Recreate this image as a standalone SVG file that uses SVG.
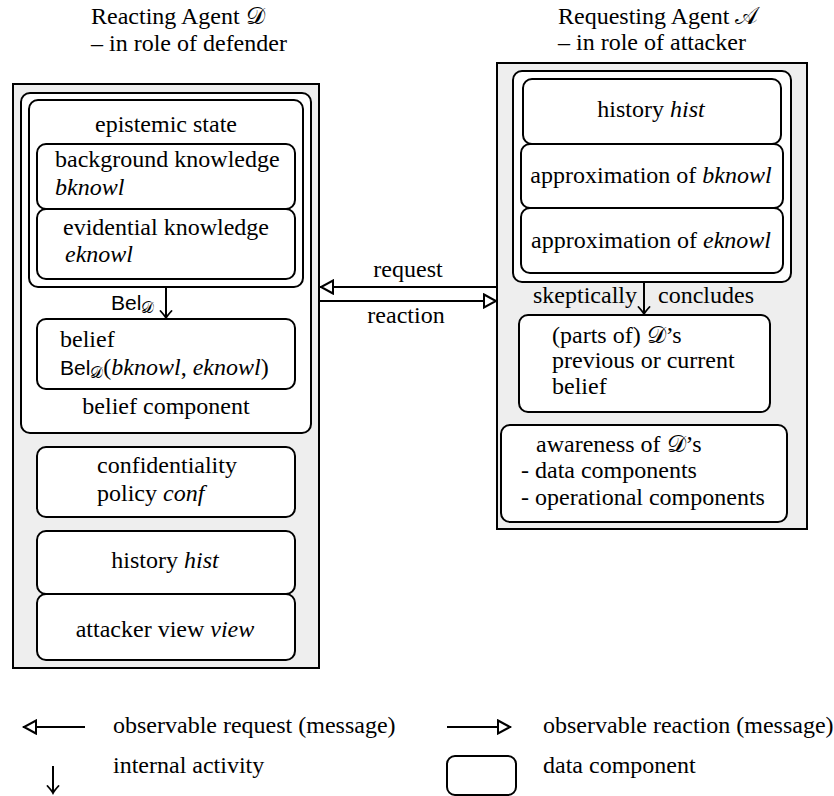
<svg xmlns="http://www.w3.org/2000/svg" width="834" height="796" viewBox="0 0 834 796">
  <defs>
    <style>
      .it { font-style: italic; }
      .sans { font-family: 'Liberation Sans', sans-serif; font-size: 21px; }
      .sub { font-size: 16px; }
      .agent { fill: #eeeeee; stroke: #000; stroke-width: 2; }
      .comp { fill: #fff; stroke: #000; stroke-width: 2; }
      .line { fill: none; stroke: #000; stroke-width: 2; }
      .mid { text-anchor: middle; }
    </style>
    <!-- open triangle head for messages -->
    <marker id="openTri" viewBox="-15 -8 17 16" refX="0" refY="0" markerWidth="17" markerHeight="16" markerUnits="userSpaceOnUse" orient="auto">
      <path d="M-13,-6.5 L-1,0 L-13,6.5 Z" fill="#fff" stroke="#000" stroke-width="2" stroke-linejoin="miter"/>
    </marker>
    <!-- thin curved head for internal activities -->
    <marker id="tip" viewBox="-9 -7 11 14" refX="0" refY="0" markerWidth="11" markerHeight="14" markerUnits="userSpaceOnUse" orient="auto">
      <path d="M-7,-5.5 Q-2,-1 0,0 Q-2,1 -7,5.5" fill="none" stroke="#000" stroke-width="1.8" stroke-linecap="round"/>
    </marker>
  </defs>

<g font-family="'Liberation Serif', serif" font-size="24" fill="#000">
  <!-- agent titles -->
  <g id="title-defender">
    <text x="91" y="24">Reacting Agent 𝒟</text>
    <text x="91" y="51">– in role of defender</text>
  </g>
  <g id="title-attacker">
    <text x="558" y="24">Requesting Agent 𝒜</text>
    <text x="558" y="50">– in role of attacker</text>
  </g>

  <!-- reacting agent (defender) -->
  <g id="defender">
    <rect class="agent" x="13" y="84" width="306" height="584"/>
    <g id="belief-component">
      <rect class="comp" x="21" y="93" width="290" height="340" rx="9"/>
      <text class="mid" x="166" y="414">belief component</text>
    </g>
    <g id="epistemic-state">
      <rect class="comp" x="29" y="100" width="274" height="187" rx="9"/>
      <text class="mid" x="166" y="132">epistemic state</text>
    </g>
    <g id="bknowl">
      <rect class="comp" x="37" y="144" width="258" height="65" rx="9"/>
      <text x="55" y="167">background knowledge</text>
      <text class="it" x="55" y="195">bknowl</text>
    </g>
    <g id="eknowl">
      <rect class="comp" x="37" y="209" width="258" height="70" rx="9"/>
      <text x="63" y="235">evidential knowledge</text>
      <text class="it" x="65" y="262">eknowl</text>
    </g>
    <g id="belief">
      <rect class="comp" x="37" y="319" width="258" height="70" rx="9"/>
      <text x="60" y="347">belief</text>
      <text x="60" y="375"><tspan class="sans">Bel</tspan><tspan class="sub" dy="3">𝒟</tspan><tspan dy="-3">(</tspan><tspan class="it">bknowl</tspan>, <tspan class="it">eknowl</tspan>)</text>
    </g>
    <g id="conf">
      <rect class="comp" x="37" y="447" width="258" height="70" rx="9"/>
      <text x="97" y="473">confidentiality</text>
      <text x="97" y="501">policy <tspan class="it">conf</tspan></text>
    </g>
    <g id="hist-d">
      <rect class="comp" x="37" y="531" width="258" height="63" rx="9"/>
      <text class="mid" x="165" y="568">history <tspan class="it">hist</tspan></text>
    </g>
    <g id="view">
      <rect class="comp" x="37" y="594" width="258" height="66" rx="9"/>
      <text class="mid" x="165" y="637">attacker view <tspan class="it">view</tspan></text>
    </g>
  </g>

  <!-- requesting agent (attacker) -->
  <g id="attacker">
    <rect class="agent" x="497" y="63" width="310" height="466"/>
    <g id="attacker-knowledge">
      <rect class="comp" x="513" y="71" width="278" height="211" rx="9"/>
    </g>
    <g id="hist-a">
      <rect class="comp" x="523" y="79" width="258" height="65" rx="9"/>
      <text class="mid" x="651" y="117">history <tspan class="it">hist</tspan></text>
    </g>
    <g id="approx-bknowl">
      <rect class="comp" x="521" y="144" width="262" height="64" rx="9"/>
      <text class="mid" x="651" y="183">approximation of <tspan class="it">bknowl</tspan></text>
    </g>
    <g id="approx-eknowl">
      <rect class="comp" x="521" y="208" width="262" height="65" rx="9"/>
      <text class="mid" x="651" y="248">approximation of <tspan class="it">eknowl</tspan></text>
    </g>
    <g id="concluded-belief">
      <rect class="comp" x="519" y="315" width="251" height="97" rx="9"/>
      <text x="552" y="343">(parts of) 𝒟’s</text>
      <text x="552" y="368">previous or current</text>
      <text x="552" y="394">belief</text>
    </g>
    <g id="awareness">
      <rect class="comp" x="501" y="425" width="286" height="97" rx="9"/>
      <text x="536" y="452">awareness of 𝒟’s</text>
      <text x="521" y="478">- data components</text>
      <text x="521" y="505">- operational components</text>
    </g>
  </g>

  <!-- connectors -->
  <g id="connectors">
    <line class="line" x1="166" y1="287" x2="166" y2="318" marker-end="url(#tip)"/>
    <text x="111" y="310"><tspan class="sans">Bel</tspan><tspan class="sub" dy="3">𝒟</tspan></text>

    <line class="line" x1="644" y1="282" x2="644" y2="314" marker-end="url(#tip)"/>
    <text x="637" y="303" text-anchor="end">skeptically</text>
    <text x="658" y="303">concludes</text>

    <line class="line" x1="497" y1="287" x2="320" y2="287" marker-end="url(#openTri)"/>
    <text class="mid" x="408" y="277">request</text>
    <line class="line" x1="319" y1="301" x2="497" y2="301" marker-end="url(#openTri)"/>
    <text class="mid" x="406" y="323">reaction</text>
  </g>

  <!-- legend -->
  <g id="legend">
    <g id="legend-request">
      <line class="line" x1="85" y1="727" x2="23" y2="727" marker-end="url(#openTri)"/>
      <text x="113" y="733">observable request (message)</text>
    </g>
    <g id="legend-reaction">
      <line class="line" x1="447" y1="727" x2="511" y2="727" marker-end="url(#openTri)"/>
      <text x="543" y="733">observable reaction (message)</text>
    </g>
    <g id="legend-internal">
      <line class="line" x1="53" y1="766" x2="53" y2="793" marker-end="url(#tip)"/>
      <text x="113" y="773">internal activity</text>
    </g>
    <g id="legend-data">
      <rect class="comp" x="447" y="756" width="69" height="39" rx="8"/>
      <text x="543" y="773">data component</text>
    </g>
  </g>
</g>
</svg>
